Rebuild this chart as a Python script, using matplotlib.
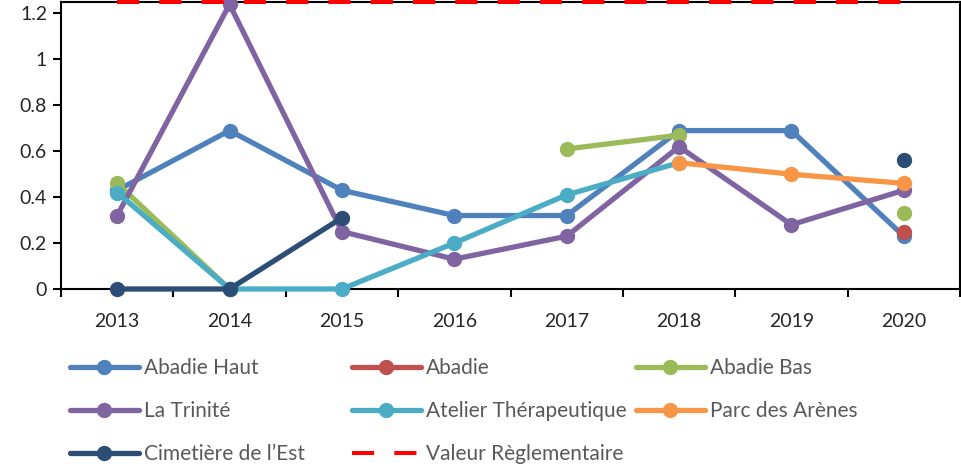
import numpy as np
import matplotlib.pyplot as plt

# -------------------------
# Data
# -------------------------

years = ["2013", "2014", "2015", "2016", "2017", "2018", "2019", "2020"]

nan = np.nan
abadie_haut = [0.43, 0.69, 0.43, 0.32, 0.32, 0.69, 0.69, 0.23]
abadie = [nan, nan, nan, nan, nan, nan, nan, 0.25]
abadie_bas = [0.46, 0.0, nan, nan, 0.61, 0.67, nan, 0.33]
la_trinite = [0.32, 1.24, 0.25, 0.13, 0.23, 0.62, 0.28, 0.43]
atelier = [0.42, 0.0, 0.0, 0.20, 0.41, 0.55, nan, nan]
parc_arenes = [nan, nan, nan, nan, nan, 0.55, 0.50, 0.46]
cimetiere = [0.0, 0.0, 0.31, nan, nan, nan, nan, 0.56]
valeur_regl = [1.25] * 8

series = [
    ("Abadie Haut", abadie_haut, "#4F81BD"),
    ("Abadie", abadie, "#C0504D"),
    ("Abadie Bas", abadie_bas, "#9BBB59"),
    ("La Trinité", la_trinite, "#8064A2"),
    ("Atelier Thérapeutique", atelier, "#4BACC6"),
    ("Parc des Arènes", parc_arenes, "#F79646"),
    ("Cimetière de l’Est", cimetiere, "#2C4D75"),
]

# -------------------------
# Figure
# -------------------------

plt.rcParams["font.family"] = ["Lato", "DejaVu Sans"]

W, H = 961, 469
fig = plt.figure(figsize=(W / 100, H / 100), dpi=100)
ax = fig.add_axes([61 / W, (H - 289) / H, (960 - 61) / W, (289 - 2) / H])

x = np.arange(len(years))
handles = {}
for name, vals, color in series:
    (ln,) = ax.plot(
        x, vals, color=color, lw=3.8, marker="o", ms=10,
        solid_joinstyle="round", solid_capstyle="round",
        clip_on=False, zorder=3, label=name,
    )
    handles[name] = ln

(ln,) = ax.plot(
    x, valeur_regl, color="#FF0000", lw=2.9, ls=(0, (5.5, 5)),
    clip_on=False, zorder=4, label="Valeur Règlementaire",
)
handles["Valeur Règlementaire"] = ln

ax.set_xlim(-0.5, len(years) - 0.5)
ax.set_ylim(0, 1.25)

ax.set_yticks([0, 0.2, 0.4, 0.6, 0.8, 1.0, 1.2])
ax.set_yticklabels(["0", "0.2", "0.4", "0.6", "0.8", "1", "1.2"])
ax.set_xticks(x)
ax.set_xticklabels(years)
ax.set_xticks(np.arange(-0.5, len(years)), minor=True)

ax.tick_params(axis="x", which="major", length=0, pad=17,
               labelsize=14, labelcolor="#262626")
ax.tick_params(axis="x", which="minor", length=6, width=1.5,
               direction="out", color="black")
ax.tick_params(axis="y", length=6, width=1.5, direction="out",
               labelsize=14, labelcolor="#262626", pad=4)

for s in ax.spines.values():
    s.set_linewidth(1.5)
    s.set_color("black")

# -------------------------
# Legend (three fixed-width columns, filled row by row)
# -------------------------

columns = [
    ["Abadie Haut", "La Trinité", "Cimetière de l’Est"],
    ["Abadie", "Atelier Thérapeutique", "Valeur Règlementaire"],
    ["Abadie Bas", "Parc des Arènes"],
]
col_x = [70, 352, 636]

for cx, names in zip(col_x, columns):
    leg = fig.legend(
        [handles[n] for n in names], names,
        loc="upper left", bbox_to_anchor=(cx / W, 1 - 358 / H),
        frameon=False, fontsize=15, handlelength=3.3,
        handletextpad=0.25, labelspacing=1.1, borderpad=0,
        borderaxespad=0, numpoints=1, labelcolor="#595959",
    )
    for h in leg.legend_handles:
        h.set_markersize(10)

fig.savefig("out.png", dpi=100)
